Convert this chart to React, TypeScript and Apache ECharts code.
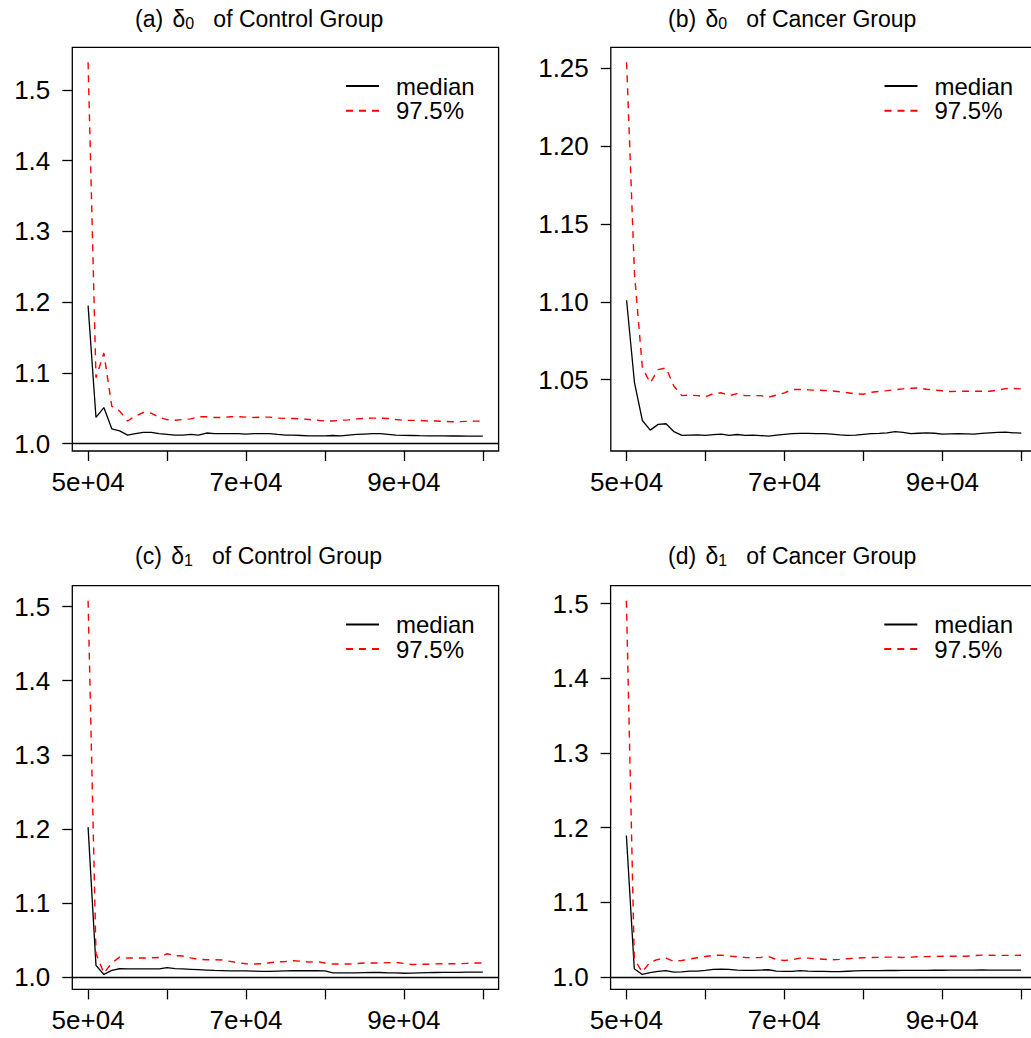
import React, { useEffect, useRef } from 'react';
import * as echarts from 'echarts';

// ---------------- data ----------------
const SAMPLE_SIZES = [
  50000, 51000, 52000, 53000, 54000, 55000, 56000, 57000, 58000, 59000,
  60000, 61000, 62000, 63000, 64000, 65000, 66000, 67000, 68000, 69000,
  70000, 71000, 72000, 73000, 74000, 75000, 76000, 77000, 78000, 79000,
  80000, 81000, 82000, 83000, 84000, 85000, 86000, 87000, 88000, 89000,
  90000, 91000, 92000, 93000, 94000, 95000, 96000, 97000, 98000, 99000,
  100000,
];

// (a) delta0, Control Group
const A_MEDIAN = [
  1.195, 1.037, 1.051, 1.021, 1.018, 1.012, 1.014, 1.016, 1.016, 1.014,
  1.013, 1.012, 1.012, 1.013, 1.012, 1.015, 1.014, 1.014, 1.014, 1.014,
  1.0135, 1.014, 1.014, 1.0141, 1.013, 1.012, 1.012, 1.0115, 1.011, 1.011,
  1.011, 1.0115, 1.011, 1.012, 1.013, 1.0135, 1.014, 1.014, 1.013, 1.012,
  1.0117, 1.0115, 1.0112, 1.011, 1.011, 1.011, 1.0108, 1.0108, 1.0107, 1.0107,
  1.0107,
];
const A_UPPER = [
  1.539, 1.093, 1.128, 1.053, 1.046, 1.032, 1.039, 1.044, 1.043, 1.037,
  1.034, 1.033, 1.034, 1.035, 1.038, 1.038, 1.037, 1.037, 1.038, 1.038,
  1.0375, 1.037, 1.0375, 1.0375, 1.036, 1.0356, 1.0355, 1.035, 1.034, 1.033,
  1.032, 1.032, 1.033, 1.0335, 1.035, 1.0355, 1.036, 1.036, 1.0355, 1.034,
  1.033, 1.0328, 1.0328, 1.032, 1.032, 1.0315, 1.031, 1.031, 1.0315, 1.0318,
  1.0318,
];

// (b) delta0, Cancer Group
const B_MEDIAN = [
  1.101, 1.048, 1.0237, 1.0175, 1.0212, 1.0216, 1.0165, 1.0141, 1.0143, 1.0145,
  1.0141, 1.0146, 1.015, 1.0141, 1.0147, 1.0141, 1.0143, 1.014, 1.0137, 1.0143,
  1.0148, 1.0152, 1.0154, 1.0154, 1.0153, 1.0152, 1.015, 1.0145, 1.0141, 1.0143,
  1.0148, 1.0152, 1.0154, 1.0158, 1.0165, 1.016, 1.0152, 1.0155, 1.0158, 1.0155,
  1.015, 1.0151, 1.0152, 1.0151, 1.015, 1.0154, 1.0158, 1.016, 1.0162, 1.0158,
  1.0156,
];
const B_UPPER = [
  1.254, 1.118, 1.0575, 1.0479, 1.0564, 1.0575, 1.0457, 1.0397, 1.04, 1.0397,
  1.0389, 1.041, 1.0415, 1.0397, 1.041, 1.0397, 1.0397, 1.0397, 1.0387, 1.04,
  1.0415, 1.0436, 1.0436, 1.0434, 1.0432, 1.043, 1.0427, 1.0422, 1.0415, 1.0408,
  1.0406, 1.0418, 1.0424, 1.0429, 1.0435, 1.044, 1.0444, 1.0446, 1.0438, 1.0432,
  1.0428, 1.0423, 1.0425, 1.0425, 1.0425, 1.0425, 1.0425, 1.0432, 1.0442, 1.0443,
  1.044,
];

// (c) delta1, Control Group
const C_MEDIAN = [
  1.2024, 1.0158, 1.0036, 1.009, 1.0113, 1.011, 1.011, 1.0111, 1.0111, 1.0111,
  1.0127, 1.0115, 1.011, 1.0105, 1.01, 1.0095, 1.009, 1.0088, 1.0085, 1.0085,
  1.0083, 1.008, 1.0078, 1.0078, 1.0082, 1.0085, 1.0086, 1.0087, 1.0086, 1.0086,
  1.0085, 1.0058, 1.0056, 1.0056, 1.0058, 1.006, 1.0062, 1.0062, 1.0058, 1.0056,
  1.0052, 1.0054, 1.0058, 1.006, 1.0062, 1.0063, 1.0064, 1.0065, 1.0066, 1.0067,
  1.0067,
];
const C_UPPER = [
  1.508, 1.032, 1.0054, 1.019, 1.027, 1.0257, 1.0257, 1.0257, 1.026, 1.0265,
  1.0316, 1.029, 1.0285, 1.026, 1.0239, 1.0235, 1.0235, 1.023, 1.0212, 1.0194,
  1.018, 1.0176, 1.018, 1.0194, 1.0205, 1.021, 1.022, 1.0215, 1.0203, 1.021,
  1.019, 1.0176, 1.0176, 1.0176, 1.0182, 1.019, 1.019, 1.019, 1.0195, 1.0198,
  1.0185, 1.0171, 1.0172, 1.0174, 1.0178, 1.018, 1.018, 1.018, 1.0186, 1.019,
  1.019,
];

// (d) delta1, Cancer Group
const D_MEDIAN = [
  1.1894, 1.011, 1.0033, 1.0056, 1.0074, 1.0083, 1.0064, 1.0068, 1.0078, 1.0078,
  1.0087, 1.01, 1.0105, 1.01, 1.0092, 1.0087, 1.0087, 1.0092, 1.0096, 1.0078,
  1.0074, 1.0074, 1.0083, 1.0078, 1.0074, 1.0075, 1.007, 1.0072, 1.0076, 1.008,
  1.0083, 1.0085, 1.0085, 1.0086, 1.0086, 1.0087, 1.0087, 1.0088, 1.0088, 1.0089,
  1.0089, 1.009, 1.009, 1.0091, 1.0092, 1.0093, 1.0092, 1.0091, 1.0091, 1.0091,
  1.0091,
];
const D_UPPER = [
  1.504, 1.0244, 1.0064, 1.0198, 1.0234, 1.0252, 1.0207, 1.022, 1.0239, 1.0257,
  1.0274, 1.0288, 1.0292, 1.0279, 1.027, 1.0261, 1.0257, 1.0261, 1.0274, 1.0234,
  1.022, 1.023, 1.0252, 1.0252, 1.0243, 1.0237, 1.0228, 1.0235, 1.0244, 1.025,
  1.0257, 1.026, 1.0262, 1.0265, 1.0264, 1.026, 1.0265, 1.027, 1.0272, 1.0274,
  1.0276, 1.0277, 1.0277, 1.0277, 1.0285, 1.0292, 1.029, 1.0288, 1.0288, 1.0288,
  1.029,
];

const X_TICKS = [50000, 60000, 70000, 80000, 90000, 100000];
const X_LABELS = [50000, 70000, 90000];
const X_RANGE = [48000, 102000];
const Y_TICKS_WIDE = [1.0, 1.1, 1.2, 1.3, 1.4, 1.5];
const Y_TICKS_NARROW = [1.05, 1.1, 1.15, 1.2, 1.25];

const TITLE_LETTERS = ['a', 'b', 'c', 'd'];
const TITLE_SUBS = ['0', '0', '1', '1'];
const TITLE_GROUPS = ['Control Group', 'Cancer Group', 'Control Group', 'Cancer Group'];
const LEGEND_NAMES = ['median', '97.5%'];
const REFERENCE_LEVEL = 1;

const MEDIANS = [A_MEDIAN, B_MEDIAN, C_MEDIAN, D_MEDIAN];
const UPPERS = [A_UPPER, B_UPPER, C_UPPER, D_UPPER];
const Y_TICKS = [Y_TICKS_WIDE, Y_TICKS_NARROW, Y_TICKS_WIDE, Y_TICKS_WIDE];
const Y_DECIMALS = [1, 2, 1, 1];

// ---------------- layout ----------------
const FONT = '"Liberation Sans", Arial, Helvetica, sans-serif';
const GRID_W = 426.3;
const GRID_H = 403.7;
const GRID_POS = [
  { left: 72.3, top: 47.3 },
  { left: 610.8, top: 47.3 },
  { left: 72.3, top: 585.7 },
  { left: 610.6, top: 585.7 },
];
const TITLE_POS = [
  { left: 135, top: 7 },
  { left: 668, top: 7 },
  { left: 135, top: 544 },
  { left: 668, top: 544 },
];

function fmtSci(v: number): string {
  const e = Math.floor(Math.log10(v));
  const m = Math.round(v / Math.pow(10, e));
  return `${m}e+${String(e).padStart(2, '0')}`;
}

function buildOption() {
  const grid: any[] = [];
  const xAxis: any[] = [];
  const yAxis: any[] = [];
  const series: any[] = [];
  const title: any[] = [];
  const legend: any[] = [];

  for (let i = 0; i < 4; i++) {
    const med = MEDIANS[i];
    const up = UPPERS[i];
    const all = med.concat(up);
    const dmin = Math.min(...all);
    const dmax = Math.max(...all);
    const r = dmax - dmin;
    const ymin = dmin - 0.04 * r;
    const ymax = dmax + 0.04 * r;
    const g = GRID_POS[i];

    grid.push({
      left: g.left,
      top: g.top,
      width: GRID_W,
      height: GRID_H,
      show: true,
      borderColor: '#000',
      borderWidth: 1.3,
      backgroundColor: 'transparent',
      containLabel: false,
      outerBoundsMode: 'none',
    });

    xAxis.push({
      type: 'value',
      gridIndex: i,
      min: X_RANGE[0],
      max: X_RANGE[1],
      axisLine: { show: false },
      splitLine: { show: false },
      axisTick: {
        show: true,
        inside: false,
        length: 10,
        customValues: X_TICKS,
        lineStyle: { color: '#000', width: 1.3 },
      },
      axisLabel: {
        show: true,
        customValues: X_LABELS,
        formatter: (v: number) => fmtSci(v),
        color: '#000',
        fontSize: 26,
        fontFamily: FONT,
        margin: 18,
      },
    });

    const dec = Y_DECIMALS[i];
    yAxis.push({
      type: 'value',
      gridIndex: i,
      min: ymin,
      max: ymax,
      axisLine: { show: false },
      splitLine: { show: false },
      axisTick: {
        show: true,
        inside: false,
        length: 10,
        customValues: Y_TICKS[i],
        lineStyle: { color: '#000', width: 1.3 },
      },
      axisLabel: {
        show: true,
        customValues: Y_TICKS[i],
        formatter: (v: number) => v.toFixed(dec),
        color: '#000',
        fontSize: 26,
        fontFamily: FONT,
        margin: 22,
      },
    });

    const medSeries: any = {
      name: LEGEND_NAMES[0],
      type: 'line',
      xAxisIndex: i,
      yAxisIndex: i,
      data: SAMPLE_SIZES.map((x, k) => [x, med[k]]),
      symbol: 'none',
      showSymbol: false,
      color: '#000',
      lineStyle: { color: '#000', width: 1.3, type: 'solid' },
      z: 3,
    };
    if (REFERENCE_LEVEL >= ymin && REFERENCE_LEVEL <= ymax) {
      medSeries.markLine = {
        silent: true,
        symbol: ['none', 'none'],
        label: { show: false },
        lineStyle: { color: '#000', type: 'solid', width: 1.3 },
        data: [{ yAxis: REFERENCE_LEVEL }],
      };
    }
    series.push(medSeries);

    series.push({
      name: LEGEND_NAMES[1],
      type: 'line',
      xAxisIndex: i,
      yAxisIndex: i,
      data: SAMPLE_SIZES.map((x, k) => [x, up[k]]),
      symbol: 'none',
      showSymbol: false,
      color: '#ff0000',
      lineStyle: { color: '#ff0000', width: 1.4, type: [7, 6] },
      z: 4,
    });

    title.push({
      text: `{t|(${TITLE_LETTERS[i]})} {d|δ}{s|${TITLE_SUBS[i]}}   {t|of ${TITLE_GROUPS[i]}}`,
      left: TITLE_POS[i].left,
      top: TITLE_POS[i].top,
      padding: 0,
      textStyle: {
        fontSize: 23,
        fontWeight: 'normal',
        fontFamily: FONT,
        color: '#000',
        lineHeight: 24,
        rich: {
          t: { fontSize: 23, fontFamily: FONT, color: '#000', lineHeight: 24, verticalAlign: 'middle' },
          d: { fontSize: 23, fontFamily: FONT, color: '#000', lineHeight: 24, verticalAlign: 'middle', padding: [0, 0, 0, 3] },
          s: { fontSize: 16, fontFamily: FONT, color: '#000', lineHeight: 16, verticalAlign: 'bottom' },
        },
      },
    });

    legend.push({
      orient: 'vertical',
      left: g.left + 272.7,
      top: g.top + 26.7,
      padding: 0,
      data: LEGEND_NAMES,
      itemWidth: 33,
      itemHeight: 14,
      itemGap: 0.7,
      selectedMode: false,
      itemStyle: { opacity: 0, borderWidth: 0 },
      textStyle: {
        fontSize: 24,
        fontFamily: FONT,
        color: '#000',
        lineHeight: 22,
        padding: [0, 0, 0, 12],
      },
    });
  }

  return {
    animation: false,
    backgroundColor: '#fff',
    title,
    legend,
    grid,
    xAxis,
    yAxis,
    series,
  };
}

export default function App() {
  const ref = useRef<HTMLDivElement>(null);
  useEffect(() => {
    if (!ref.current) return;
    const chart = echarts.init(ref.current, undefined, { renderer: 'svg' });
    chart.setOption(buildOption() as any);
    return () => chart.dispose();
  }, []);
  return (
    <div
      ref={ref}
      style={{ position: 'fixed', left: 0, top: 0, width: 1031, height: 1038, background: '#fff' }}
    />
  );
}
